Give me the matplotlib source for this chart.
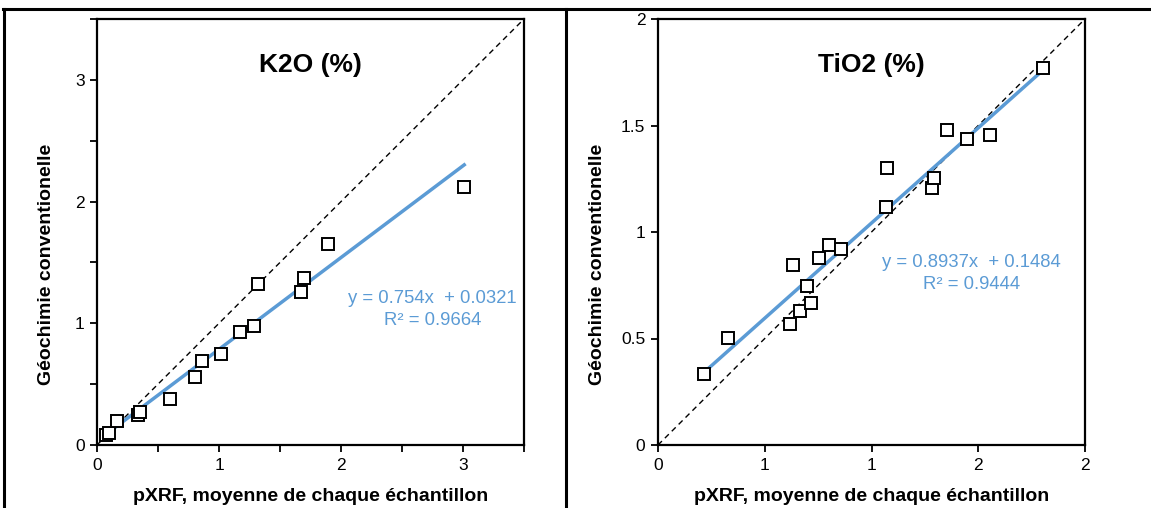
import matplotlib
matplotlib.use("Agg")
import matplotlib.pyplot as plt
from matplotlib.lines import Line2D

plt.rcParams['font.family'] = ['Liberation Sans', 'DejaVu Sans']

# K2O (%) : pXRF mean vs conventional geochemistry
k2o_x = [0.07, 0.10, 0.16, 0.34, 0.35, 0.60, 0.80, 0.86, 1.02, 1.17, 1.29, 1.32, 1.67, 1.70, 1.89, 3.01]
k2o_y = [0.085, 0.095, 0.20, 0.245, 0.275, 0.38, 0.56, 0.69, 0.75, 0.93, 0.975, 1.32, 1.26, 1.37, 1.655, 2.12]
k2o_fit = (0.754, 0.0321)
k2o_r2 = 0.9664

# TiO2 (%)
tio2_x = [0.215, 0.326, 0.618, 0.630, 0.665, 0.699, 0.715, 0.755, 0.803, 0.858,
          1.068, 1.073, 1.283, 1.292, 1.352, 1.447, 1.556, 1.802]
tio2_y = [0.332, 0.503, 0.566, 0.843, 0.627, 0.748, 0.668, 0.879, 0.939, 0.920,
          1.116, 1.301, 1.205, 1.252, 1.478, 1.437, 1.456, 1.770]
tio2_fit = (0.8937, 0.1484)
tio2_r2 = 0.9444

k2o_ticks = [0, 0.5, 1, 1.5, 2, 2.5, 3, 3.5]
k2o_labels = ["0", "", "1", "", "2", "", "3", ""]
tio2_ticks = [0, 0.5, 1, 1.5, 2]
tio2_xlabels = ["0", "1", "1", "2", "2"]
tio2_ylabels = ["0", "0.5", "1", "1.5", "2"]

blue = "#5B9BD5"
xlab = "pXRF, moyenne de chaque échantillon"
ylab = "Géochimie conventionelle"

fig = plt.figure(figsize=(11.51, 5.08), dpi=100)
ax1 = fig.add_axes([97 / 1151, 63 / 508, 427 / 1151, 426 / 508])
ax2 = fig.add_axes([658 / 1151, 63 / 508, 427 / 1151, 426 / 508])


def panel(ax, x, y, fit, r2, lim, xt, xl, yl, title, eq_pos, ylab_x):
    a, b = fit
    ax.axline((0, 0), slope=1, color="black", lw=1, ls=(0, (4, 3)), zorder=1)
    xs = [min(x), max(x)]
    ax.plot(xs, [a * v + b for v in xs], color=blue, lw=2.5, zorder=2)
    ax.plot(x, y, ls="none", marker="s", ms=8, mfc="white", mec="black", mew=1.4, zorder=3)
    ax.set_xlim(0, lim)
    ax.set_ylim(0, lim)
    ax.set_xticks(xt)
    ax.set_xticklabels(xl)
    ax.set_yticks(xt)
    ax.set_yticklabels(yl)
    ax.tick_params(direction="out", length=5, width=1.3, labelsize=12.5, pad=4)
    for s in ax.spines.values():
        s.set_linewidth(1.6)
    ax.set_xlabel(xlab, fontsize=14, fontweight="bold", labelpad=11)
    ax.set_ylabel(ylab, fontsize=14, fontweight="bold")
    ax.yaxis.set_label_coords(ylab_x, 0.423)
    ax.text(0.5, 0.893, title, transform=ax.transAxes, ha="center", va="center",
            fontsize=19, fontweight="bold")
    ax.text(eq_pos[0], eq_pos[1], "y = %gx  + %g\nR² = %g" % (a, b, r2),
            transform=ax.transAxes, ha="center", va="center", color=blue,
            fontsize=13.3, linespacing=1.35)


panel(ax1, k2o_x, k2o_y, k2o_fit, k2o_r2, 3.5, k2o_ticks, k2o_labels, k2o_labels,
      "K2O (%)", (0.785, 0.318), -0.098)
panel(ax2, tio2_x, tio2_y, tio2_fit, tio2_r2, 2, tio2_ticks, tio2_xlabels, tio2_ylabels,
      "TiO2 (%)", (0.735, 0.403), -0.122)

# table frame around the two panels
for xy in [([3, 1151], [9, 9]), ([4, 4], [9, 508]), ([566, 566], [9, 508])]:
    fig.add_artist(Line2D([v / 1151 for v in xy[0]], [1 - v / 508 for v in xy[1]],
                          color="black", lw=2.2))

fig.savefig("out.png", dpi=100)
